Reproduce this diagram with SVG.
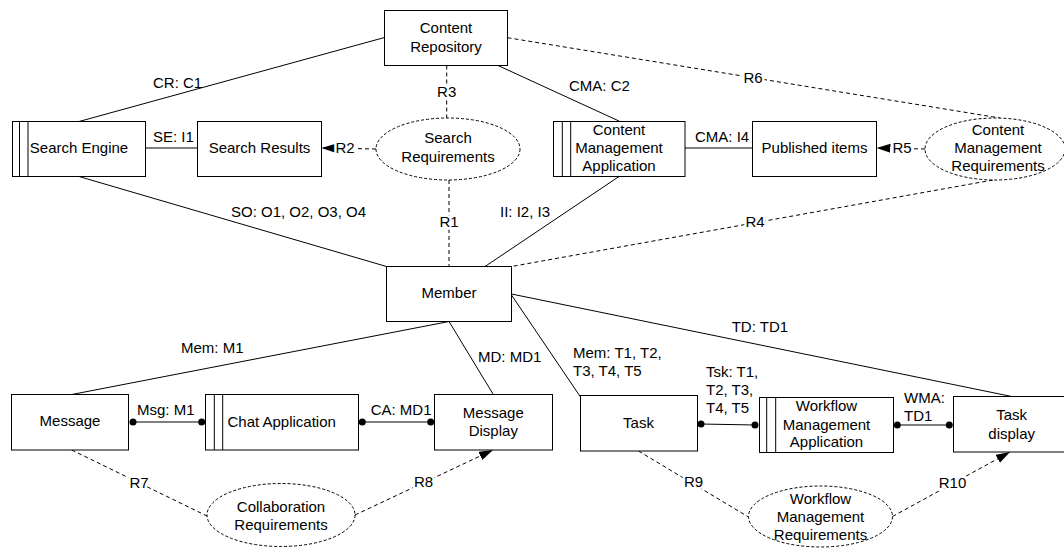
<svg xmlns="http://www.w3.org/2000/svg" width="1064" height="548" viewBox="0 0 1064 548">
  <style>
    text { font-family: "Liberation Sans", Arial, sans-serif; font-size: 15px; fill: #000; }
    .c { text-anchor: middle; }
    .box { fill: #fff; stroke: #000; stroke-width: 1; }
    .req { fill: #fff; stroke: #000; stroke-width: 1; stroke-dasharray: 3 2; }
    .bar { stroke: #000; stroke-width: 1; }
    .link { stroke: #000; stroke-width: 1; fill: none; }
    .dash { stroke: #000; stroke-width: 1; fill: none; stroke-dasharray: 4 3; }
    .dot { fill: #000; }
    .rl { text-anchor: middle; stroke: #fff; stroke-width: 5; paint-order: stroke; }
  </style>
  <defs>
    <marker id="tri" markerUnits="userSpaceOnUse" markerWidth="15" markerHeight="10" refX="14" refY="4.5" orient="auto">
      <path d="M0,0 L14,4.5 L0,9 Z" fill="#000"/>
    </marker>
  </defs>

  <rect width="1064" height="548" fill="#fff"/>

  <!-- connectors -->
  <g id="connectors">
    <!-- solid interface links -->
    <line class="link" x1="79" y1="121.5" x2="384.5" y2="37.5"/>
    <line class="link" x1="79" y1="176.5" x2="386.5" y2="266.5"/>
    <line class="link" x1="145.5" y1="148" x2="197.5" y2="148"/>
    <line class="link" x1="498" y1="65.5" x2="620" y2="121.5"/>
    <line class="link" x1="619" y1="176.5" x2="485" y2="266.5"/>
    <line class="link" x1="685" y1="148" x2="752.5" y2="148"/>
    <line class="link" x1="449" y1="321.5" x2="71.7" y2="394.5"/>
    <line class="link" x1="449" y1="321.5" x2="493.3" y2="394.5"/>
    <line class="link" x1="511.5" y1="295" x2="580.5" y2="397"/>
    <line class="link" x1="511.5" y1="294" x2="1011.7" y2="396.5"/>
    <line class="link" x1="133" y1="422" x2="201.7" y2="422"/>
    <line class="link" x1="362.3" y1="422" x2="430.7" y2="422"/>
    <line class="link" x1="701" y1="424" x2="755" y2="425"/>
    <line class="link" x1="897.3" y1="425" x2="949.3" y2="425"/>
    <circle class="dot" cx="133" cy="422" r="3.5"/>
    <circle class="dot" cx="201.7" cy="422" r="3.5"/>
    <circle class="dot" cx="362.3" cy="422" r="3.5"/>
    <circle class="dot" cx="430.7" cy="422" r="3.5"/>
    <circle class="dot" cx="701" cy="424" r="3.5"/>
    <circle class="dot" cx="755" cy="425" r="3.5"/>
    <circle class="dot" cx="897.3" cy="425" r="3.5"/>
    <circle class="dot" cx="949.3" cy="425" r="3.5"/>

    <!-- requirement links -->
    <line class="dash" x1="446.7" y1="65.5" x2="446.7" y2="118"/>
    <line class="dash" x1="449" y1="180" x2="449" y2="266.5"/>
    <line class="dash" x1="376" y1="149" x2="321.5" y2="148" marker-end="url(#tri)"/>
    <line class="dash" x1="507.5" y1="37.7" x2="1000" y2="118"/>
    <line class="dash" x1="993" y1="180" x2="511.5" y2="266.5"/>
    <line class="dash" x1="925" y1="149" x2="876.5" y2="148" marker-end="url(#tri)"/>
    <line class="dash" x1="71.7" y1="450" x2="207" y2="516"/>
    <line class="dash" x1="355" y1="515" x2="493" y2="450" marker-end="url(#tri)"/>
    <line class="dash" x1="638.5" y1="451" x2="748.5" y2="517"/>
    <line class="dash" x1="892.5" y1="516.5" x2="1010" y2="452" marker-end="url(#tri)"/>

    <!-- link labels -->
    <text x="153" y="88">CR: C1</text>
    <text x="231" y="217">SO: O1, O2, O3, O4</text>
    <text x="153" y="142">SE: I1</text>
    <text x="569" y="91">CMA: C2</text>
    <text x="500" y="217">II: I2, I3</text>
    <text x="695" y="142">CMA: I4</text>
    <text x="181" y="353">Mem: M1</text>
    <text x="478" y="362">MD: MD1</text>
    <text x="573" y="358">Mem: T1, T2,</text>
    <text x="573" y="376">T3, T4, T5</text>
    <text x="731.7" y="332">TD: TD1</text>
    <text x="137" y="415">Msg: M1</text>
    <text x="370.7" y="415">CA: MD1</text>
    <text x="706" y="377">Tsk: T1,</text>
    <text x="706" y="395">T2, T3,</text>
    <text x="706" y="413">T4, T5</text>
    <text x="904" y="403">WMA:</text>
    <text x="904" y="421">TD1</text>

    <text class="rl" x="446.7" y="97">R3</text>
    <text class="rl" x="449" y="227">R1</text>
    <text class="rl" x="345" y="153">R2</text>
    <text class="rl" x="753" y="83">R6</text>
    <text class="rl" x="755" y="227">R4</text>
    <text class="rl" x="902" y="153">R5</text>
    <text class="rl" x="139" y="488">R7</text>
    <text class="rl" x="423.5" y="487">R8</text>
    <text class="rl" x="693.5" y="487">R9</text>
    <text class="rl" x="952.5" y="488">R10</text>
  </g>

  <!-- nodes -->
  <g id="content-repository">
    <rect class="box" x="384.5" y="10.5" width="123" height="55"/>
    <text class="c" x="446" y="33">Content</text>
    <text class="c" x="446" y="52">Repository</text>
  </g>

  <g id="search-engine">
    <rect class="box" x="12.5" y="121.5" width="133" height="55"/>
    <line class="bar" x1="19.5" y1="121.5" x2="19.5" y2="176.5"/>
    <line class="bar" x1="28" y1="121.5" x2="28" y2="176.5"/>
    <text class="c" x="79" y="153">Search Engine</text>
  </g>

  <g id="search-results">
    <rect class="box" x="197.5" y="121.5" width="124" height="55"/>
    <text class="c" x="259.5" y="153">Search Results</text>
  </g>

  <g id="search-requirements">
    <ellipse class="req" cx="448" cy="149" rx="72" ry="31"/>
    <text class="c" x="448" y="143">Search</text>
    <text class="c" x="448" y="162">Requirements</text>
  </g>

  <g id="content-management-application">
    <rect class="box" x="553.5" y="121.5" width="131.5" height="55"/>
    <line class="bar" x1="562.3" y1="121.5" x2="562.3" y2="176.5"/>
    <line class="bar" x1="570.7" y1="121.5" x2="570.7" y2="176.5"/>
    <text class="c" x="619" y="135">Content</text>
    <text class="c" x="619" y="153">Management</text>
    <text class="c" x="619" y="171">Application</text>
  </g>

  <g id="published-items">
    <rect class="box" x="752.5" y="121.5" width="124" height="55"/>
    <text class="c" x="814.5" y="153">Published items</text>
  </g>

  <g id="content-management-requirements">
    <ellipse class="req" cx="995" cy="149" rx="70" ry="31"/>
    <text class="c" x="998" y="135">Content</text>
    <text class="c" x="998" y="153">Management</text>
    <text class="c" x="998" y="171">Requirements</text>
  </g>

  <g id="member">
    <rect class="box" x="386.5" y="266.5" width="125" height="55"/>
    <text class="c" x="449" y="298">Member</text>
  </g>

  <g id="message">
    <rect class="box" x="11.5" y="394.5" width="117" height="55.5"/>
    <text class="c" x="70" y="426">Message</text>
  </g>

  <g id="chat-application">
    <rect class="box" x="205.5" y="394.5" width="153" height="55.5"/>
    <line class="bar" x1="214.3" y1="394.5" x2="214.3" y2="450"/>
    <line class="bar" x1="222.7" y1="394.5" x2="222.7" y2="450"/>
    <text class="c" x="281.7" y="427">Chat Application</text>
  </g>

  <g id="message-display">
    <rect class="box" x="434.5" y="394.5" width="118" height="55.5"/>
    <text class="c" x="493.3" y="418">Message</text>
    <text class="c" x="493.3" y="436">Display</text>
  </g>

  <g id="collaboration-requirements">
    <ellipse class="req" cx="281" cy="515" rx="74" ry="31.5"/>
    <text class="c" x="281" y="512">Collaboration</text>
    <text class="c" x="281" y="530">Requirements</text>
  </g>

  <g id="task">
    <rect class="box" x="580.5" y="395.5" width="117" height="55.5"/>
    <text class="c" x="638.5" y="428">Task</text>
  </g>

  <g id="workflow-management-application">
    <rect class="box" x="759.5" y="397.5" width="134" height="55"/>
    <line class="bar" x1="766.7" y1="397.5" x2="766.7" y2="452.5"/>
    <line class="bar" x1="775.7" y1="397.5" x2="775.7" y2="452.5"/>
    <text class="c" x="826.5" y="411">Workflow</text>
    <text class="c" x="826.5" y="429.5">Management</text>
    <text class="c" x="826.5" y="447">Application</text>
  </g>

  <g id="task-display">
    <rect class="box" x="953.5" y="396.5" width="120" height="55.5"/>
    <text class="c" x="1011.7" y="420">Task</text>
    <text class="c" x="1011.7" y="438.5">display</text>
  </g>

  <g id="workflow-management-requirements">
    <ellipse class="req" cx="820.5" cy="516.5" rx="72" ry="30.5"/>
    <text class="c" x="820.5" y="503.5">Workflow</text>
    <text class="c" x="820.5" y="522">Management</text>
    <text class="c" x="820.5" y="540">Requirements</text>
  </g>
</svg>
